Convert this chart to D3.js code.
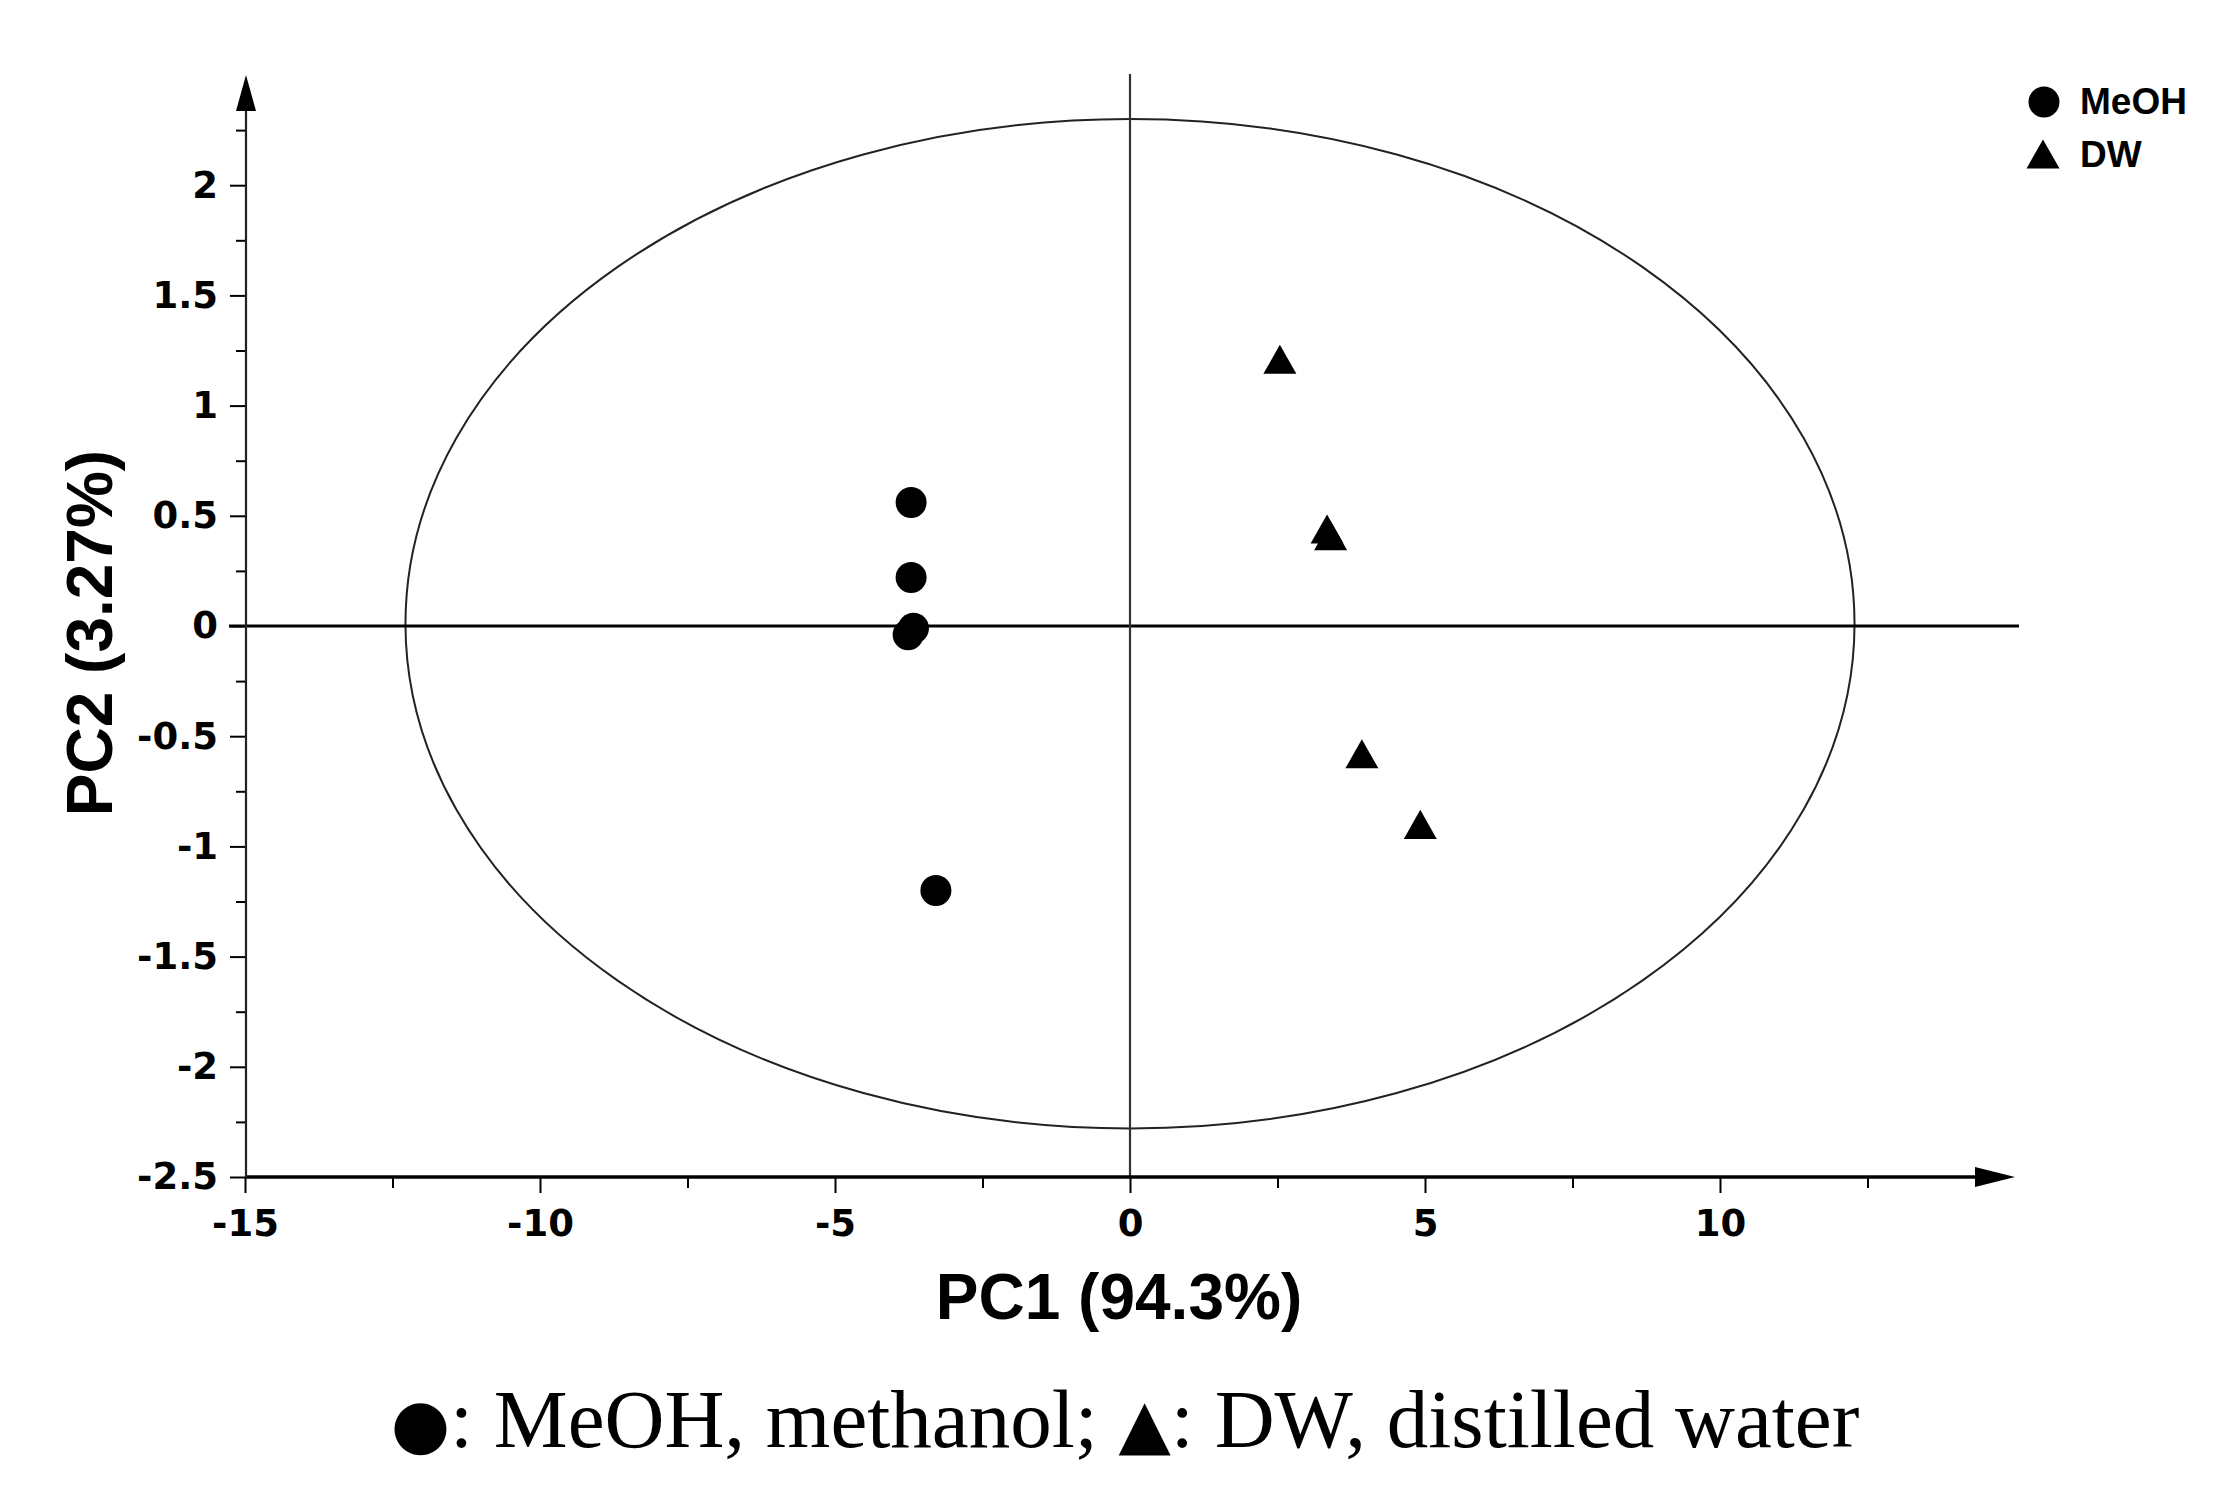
<!DOCTYPE html>
<html>
<head>
<meta charset="utf-8">
<script src="https://cdn.jsdelivr.net/npm/d3@7"></script>
<style>
  body { margin: 0; background: #fff; }
</style>
</head>
<body>
<div id="chart"></div>
<script>
// scores
const meohPC1 = [-3.71, -3.71, -3.67, -3.76, -3.29];
const meohPC2 = [0.56, 0.22, -0.01, -0.04, -1.20];
const dwPC1 = [2.54, 3.34, 3.40, 3.93, 4.92];
const dwPC2 = [1.21, 0.44, 0.41, -0.58, -0.90];

const xTicks = [-15, -10, -5, 0, 5, 10];
const xMinor = [-12.5, -7.5, -2.5, 2.5, 7.5, 12.5];
const yTicks = [-2.5, -2, -1.5, -1, -0.5, 0, 0.5, 1, 1.5, 2];
const yMinor = [-2.25, -1.75, -1.25, -0.75, -0.25, 0.25, 0.75, 1.25, 1.75, 2.25];

// confidence ellipse (radii in PC units)
const ellipseR = [12.28, 2.29];

const width = 2237, height = 1506;

const svg = d3.select("#chart")
    .append("svg")
    .attr("width", width)
    .attr("height", height)
    .attr("viewBox", [0, 0, width, height]);

const x = d3.scaleLinear().domain([-15, 15]).range([245, 2015]);
const y = d3.scaleLinear().domain([-2.5, 2.5]).range([1177, 75]);

const tickFont = "'DejaVu Sans', sans-serif";
const plain = d => String(d); // hyphen, not unicode minus

// ellipse
svg.append("ellipse")
    .attr("cx", x(0))
    .attr("cy", y(0.01))
    .attr("rx", x(ellipseR[0]) - x(0))
    .attr("ry", y(0) - y(ellipseR[1]))
    .attr("fill", "none")
    .attr("stroke", "#222")
    .attr("stroke-width", 2);

// zero lines
svg.append("line")
    .attr("x1", 229).attr("x2", 2019)
    .attr("y1", y(0)).attr("y2", y(0))
    .attr("stroke", "#000").attr("stroke-width", 3);

svg.append("line")
    .attr("x1", x(0)).attr("x2", x(0))
    .attr("y1", 74).attr("y2", y(-2.5))
    .attr("stroke", "#333").attr("stroke-width", 2.2);

// axes: ticks from d3, domain lines drawn by hand with arrows
const xAxis = g => g
    .attr("transform", `translate(0,${y(-2.5)})`)
    .call(d3.axisBottom(x).tickValues(xTicks).tickSize(16).tickPadding(17).tickFormat(plain))
    .call(g => g.select(".domain").remove());

const xAxisMinor = g => g
    .attr("transform", `translate(0,${y(-2.5)})`)
    .call(d3.axisBottom(x).tickValues(xMinor).tickSize(11).tickFormat(""))
    .call(g => g.select(".domain").remove());

const yAxis = g => g
    .attr("transform", `translate(${x(-15) + 1},0)`)
    .call(d3.axisLeft(y).tickValues(yTicks).tickSize(16).tickPadding(12).tickFormat(plain))
    .call(g => g.select(".domain").remove());

const yAxisMinor = g => g
    .attr("transform", `translate(${x(-15) + 1},0)`)
    .call(d3.axisLeft(y).tickValues(yMinor).tickSize(10).tickFormat(""))
    .call(g => g.select(".domain").remove());

for (const ax of [xAxis, xAxisMinor, yAxis, yAxisMinor]) {
    svg.append("g").call(ax)
        .call(g => g.selectAll("line").attr("stroke", "#000").attr("stroke-width", 2))
        .call(g => g.selectAll("text")
            .attr("fill", "#000")
            .attr("font-family", tickFont)
            .attr("font-weight", "bold")
            .attr("font-size", 37));
}

// axis lines
svg.append("line")
    .attr("x1", x(-15)).attr("x2", 1980)
    .attr("y1", y(-2.5)).attr("y2", y(-2.5))
    .attr("stroke", "#000").attr("stroke-width", 3.5);
svg.append("path")
    .attr("d", `M${x(15)},${y(-2.5)} L${x(15) - 40},${y(-2.5) - 10} L${x(15) - 40},${y(-2.5) + 10} Z`)
    .attr("fill", "#000");

svg.append("line")
    .attr("x1", x(-15) + 1).attr("x2", x(-15) + 1)
    .attr("y1", y(-2.5)).attr("y2", 105)
    .attr("stroke", "#222").attr("stroke-width", 2.2);
svg.append("path")
    .attr("d", `M${x(-15) + 1},${y(2.5)} L${x(-15) - 9},${y(2.5) + 36} L${x(-15) + 11},${y(2.5) + 36} Z`)
    .attr("fill", "#000");

// markers
const tri = (s) => `M0,${-s * 0.44}L${s / 2},${s * 0.44}L${-s / 2},${s * 0.44}Z`;

svg.append("g")
    .selectAll("circle")
    .data(meohPC1.map((d, i) => [d, meohPC2[i]]))
    .join("circle")
    .attr("cx", d => x(d[0]))
    .attr("cy", d => y(d[1]))
    .attr("r", 15.5)
    .attr("fill", "#000");

svg.append("g")
    .selectAll("path")
    .data(dwPC1.map((d, i) => [d, dwPC2[i]]))
    .join("path")
    .attr("transform", d => `translate(${x(d[0])},${y(d[1])})`)
    .attr("d", tri(33))
    .attr("fill", "#000");

// axis titles
svg.append("text")
    .attr("x", 1119).attr("y", 1319)
    .attr("text-anchor", "middle")
    .attr("font-family", "'Liberation Sans', Arial, sans-serif")
    .attr("font-weight", "bold")
    .attr("font-size", 64)
    .text("PC1 (94.3%)");

svg.append("text")
    .attr("transform", "translate(112,633) rotate(-90)")
    .attr("text-anchor", "middle")
    .attr("font-family", "'Liberation Sans', Arial, sans-serif")
    .attr("font-weight", "bold")
    .attr("font-size", 64)
    .text("PC2 (3.27%)");

// legend
const legend = svg.append("g")
    .attr("font-family", "'Liberation Sans', Arial, sans-serif")
    .attr("font-weight", "bold")
    .attr("font-size", 37);
legend.append("circle").attr("cx", 2044).attr("cy", 102).attr("r", 15.5).attr("fill", "#000");
legend.append("text").attr("x", 2080).attr("y", 114).text("MeOH");
legend.append("path").attr("transform", "translate(2043,154)").attr("d", tri(33)).attr("fill", "#000");
legend.append("text").attr("x", 2080).attr("y", 167).text("DW");

// caption
const caption = svg.append("text")
    .attr("x", 1125).attr("y", 1447)
    .attr("text-anchor", "middle")
    .attr("font-family", "'Liberation Serif', 'Times New Roman', serif")
    .attr("font-size", 83);
caption.append("tspan").attr("font-family", "'DejaVu Sans', sans-serif").attr("font-size", 68).text("●");
caption.append("tspan").text(": MeOH, methanol; ");
caption.append("tspan").attr("font-family", "'DejaVu Sans', sans-serif").attr("font-size", 68).text("▲");
caption.append("tspan").text(": DW, distilled water");
</script>
</body>
</html>
